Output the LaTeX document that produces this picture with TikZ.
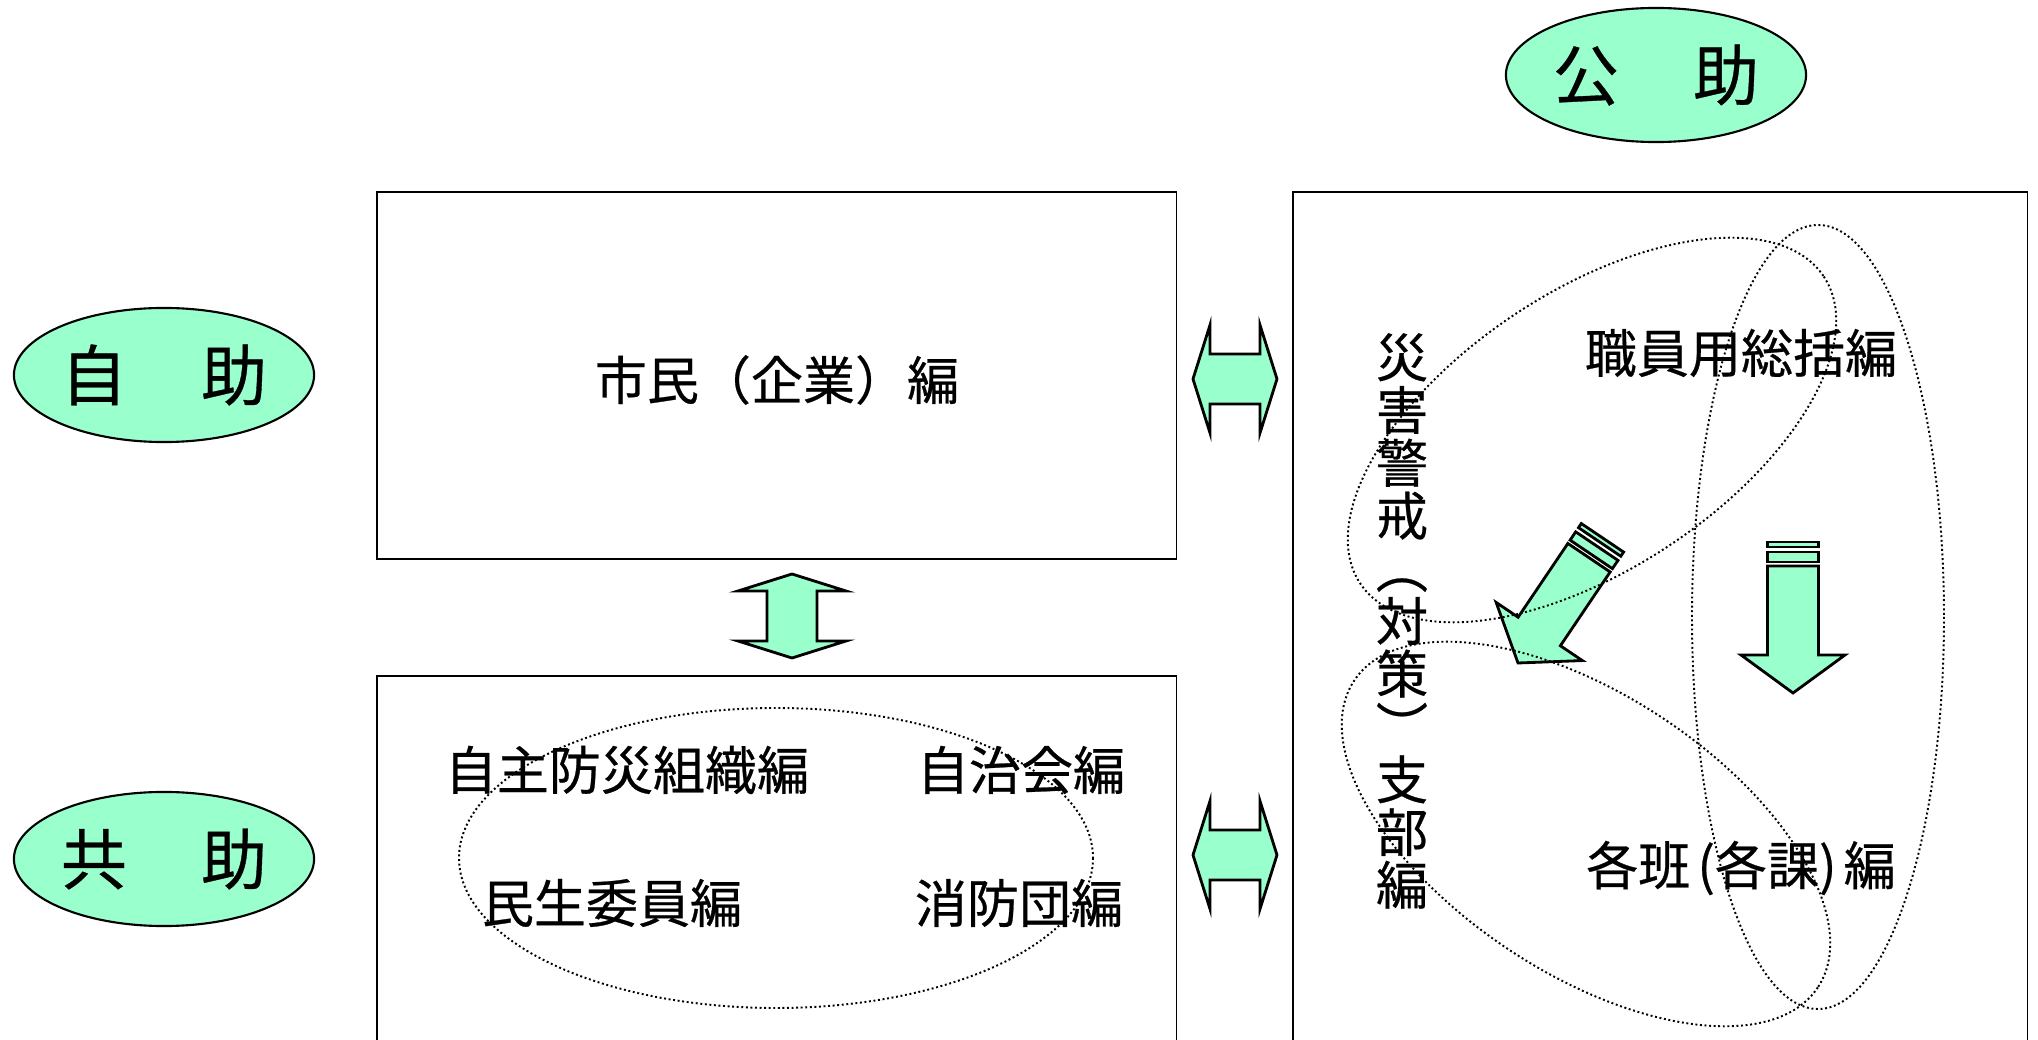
\documentclass[tikz,border=0pt]{standalone}
\usepackage{fontspec}
\setmainfont{Noto Sans CJK JP}[FakeBold=0.5]
\usetikzlibrary{shapes.geometric}
\definecolor{mint}{RGB}{153,255,204}
\begin{document}
\begin{tikzpicture}[x=0.01cm,y=-0.01cm,
  box/.style={draw=black, line width=0.5pt, inner sep=0pt, outer sep=0pt},
  mintfill/.style={fill=mint, draw=black, line width=0.8pt, line join=miter},
  oval/.style={ellipse, fill=mint, draw=black, line width=0.6pt, minimum width=3.0cm, minimum height=1.34cm, inner sep=0pt},
  dotline/.style={draw=black, line width=0.55pt, dash pattern=on 0.55pt off 0.75pt},
  lbl/.style={font=\fontsize{14.8}{15}\selectfont, inner sep=0pt},
  big/.style={font=\fontsize{18.8}{19}\selectfont},
  pics/hdouble/.style={code={
    \path[mintfill] (-42,0) -- (-25,-54) -- (-25,-25) -- (25,-25) -- (25,-54) -- (42,0)
      -- (25,54) -- (25,25) -- (-25,25) -- (-25,54) -- cycle;
  }},
  pics/striparrow/.style={code={
    \path[mintfill] (0,0) -- (-52,-38) -- (-25.5,-38) -- (-25.5,-127) -- (25.5,-127)
      -- (25.5,-38) -- (52,-38) -- cycle;
    \path[mintfill] (-25.5,-131) rectangle (25.5,-141);
    \path[mintfill] (-25.5,-146) rectangle (25.5,-151);
  }}
]
\useasboundingbox (0,0) rectangle (2038,1040);
\clip (0,0) rectangle (2038,1040);

% boxes
\node[box, anchor=north west, minimum width=7.99cm, minimum height=3.67cm] (citizen) at (377,192) {};
\node[box, anchor=north west, minimum width=7.99cm, minimum height=4.2cm] (mutual) at (377,676) {};
\node[box, anchor=north west, minimum width=7.34cm, minimum height=9.2cm] (public) at (1293,192) {};

% green ovals
\node[oval, big] (jijo) at (164,375) {自\hspace{0.74cm}助};
\node[oval, big] (kyojo) at (164,859) {共\hspace{0.74cm}助};
\node[oval, big] (kojo) at (1656,75) {公\hspace{0.74cm}助};

% block arrows
\pic at (1235,379) {hdouble};
\pic at (1235,855) {hdouble};
\pic[rotate=90] at (792,616) {hdouble};
\pic[rotate=-34] at (1518,663) {striparrow};
\pic at (1793,693) {striparrow};

% texts
\node[lbl] (t1) at (777,380) {市民（企業）編};
\node[lbl] (t2) at (627,770) {自主防災組織編};
\node[lbl] (t3) at (1021,770) {自治会編};
\node[lbl] (t4) at (612,903) {民生委員編};
\node[lbl] (t5) at (1019,903) {消防団編};
\node[lbl] (t6) at (1741,353) {職員用総括編};
\node[lbl] (t7) at (1741,868) {各班\kern2pt(各課)\kern2pt編};
\node[lbl, align=center] (t8) at (1402,621) {災\\害\\警\\戒\\︵\\対\\策\\︶\\支\\部\\編};

% dotted ovals
\draw[dotline] (776,858) ellipse (317 and 150);
\draw[dotline, rotate around={33.5:(1592,430)}] (1592,430) ellipse (278 and 139);
\draw[dotline, rotate around={-33.5:(1586,834)}] (1586,834) ellipse (278 and 139);
\draw[dotline] (1818,617) ellipse (126 and 392);
\end{tikzpicture}
\end{document}
